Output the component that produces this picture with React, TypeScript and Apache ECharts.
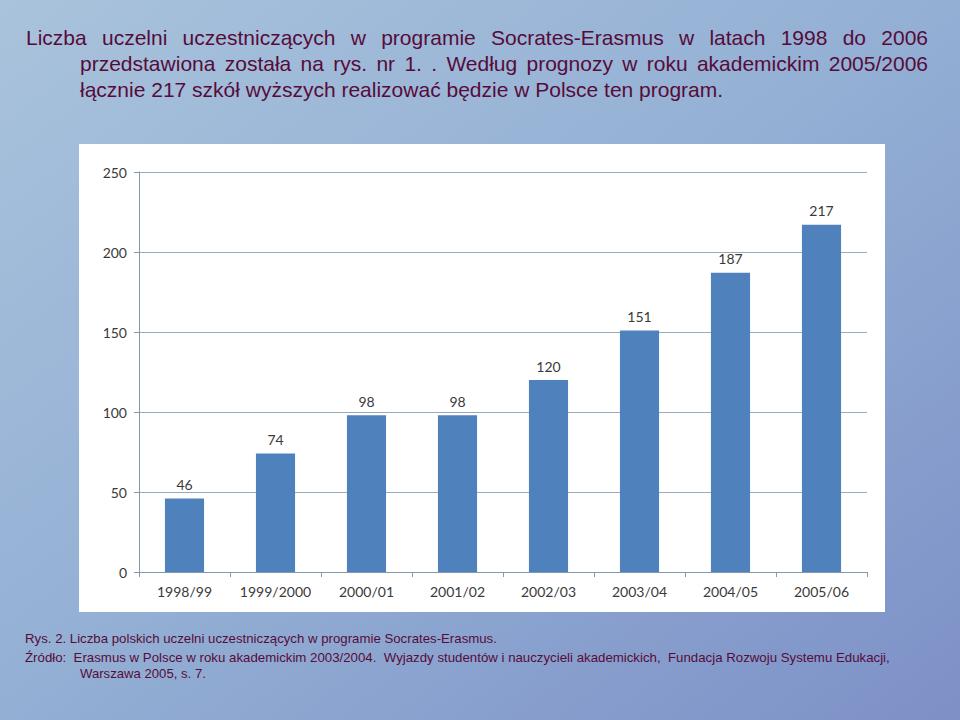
import React, { useEffect, useRef } from "react";
import * as echarts from "echarts";

const categories = ["1998/99", "1999/2000", "2000/01", "2001/02", "2002/03", "2003/04", "2004/05", "2005/06"];
const values = [46, 74, 98, 98, 120, 151, 187, 217];
const yMin = 0;
const yMax = 250;
const yStep = 50;

const headLine1 = "Liczba uczelni uczestniczących w programie Socrates-Erasmus w latach 1998 do 2006";
const headLine2 = "przedstawiona została na rys. nr 1. . Według prognozy w roku akademickim 2005/2006";
const headLine3 = "łącznie 217 szkół wyższych realizować będzie w Polsce ten program.";
const caption1 = "Rys. 2. Liczba polskich uczelni uczestniczących w programie Socrates-Erasmus.";
const caption2 = "Źródło:  Erasmus w Polsce w roku akademickim 2003/2004.  Wyjazdy studentów i nauczycieli akademickich,  Fundacja Rozwoju Systemu Edukacji,";
const caption3 = "Warszawa 2005, s. 7.";

const TEXT_COLOR = "#560c3a";
const HEAD_FONT = '"Liberation Sans", Arial, sans-serif';
const HEAD_SIZE = 21;

function measure(text: string, font: string): number {
  const c = document.createElement("canvas");
  const ctx = c.getContext("2d");
  if (!ctx) return text.length * 9;
  ctx.font = font;
  return ctx.measureText(text).width;
}

function justified(line: string, x0: number, x1: number, y: number, size: number): any[] {
  const words = line.split(/\s+/);
  const font = `${size}px "Liberation Sans"`;
  const widths = words.map((w) => measure(w, font));
  const total = widths.reduce((a, b) => a + b, 0);
  const gap = (x1 - x0 - total) / (words.length - 1);
  let x = x0;
  return words.map((w, i) => {
    const el = {
      type: "text",
      x,
      y,
      z: 100,
      style: { text: w, fill: TEXT_COLOR, font: `${size}px ${HEAD_FONT}`, verticalAlign: "middle", align: "left" },
    };
    x += widths[i] + gap;
    return el;
  });
}

function fitted(line: string, x0: number, x1: number, y: number, size: number): any {
  const natural = measure(line, `${size}px "Liberation Sans"`);
  const sx = (x1 - x0) / natural;
  return {
    type: "text",
    x: x0,
    y,
    z: 100,
    scaleX: sx,
    style: { text: line, fill: TEXT_COLOR, font: `${size}px ${HEAD_FONT}`, verticalAlign: "middle", align: "left" },
  };
}

export default function App() {
  const ref = useRef<HTMLDivElement>(null);
  useEffect(() => {
    if (!ref.current) return;
    const chart = echarts.init(ref.current, undefined, { renderer: "svg" });
    const labelFont = 'Lato, "Open Sans", sans-serif';
    chart.setOption({
      animation: false,
      backgroundColor: new echarts.graphic.LinearGradient(0, 0, 1, 1, [
        { offset: 0, color: "#a9c3dc" },
        { offset: 0.5, color: "#93afd4" },
        { offset: 1, color: "#7d90c7" },
      ]),
      graphic: [
        {
          type: "rect",
          z: -100,
          shape: { x: 79, y: 144, width: 806, height: 468 },
          style: { fill: "#ffffff" },
        },
        ...justified(headLine1, 26, 928, 37, HEAD_SIZE),
        ...justified(headLine2, 80, 928, 63, HEAD_SIZE),
        {
          type: "text",
          x: 80,
          y: 89,
          z: 100,
          style: { text: headLine3, fill: TEXT_COLOR, font: `${HEAD_SIZE}px ${HEAD_FONT}`, verticalAlign: "middle", align: "left" },
        },
        fitted(caption1, 25, 497, 639, 13),
        fitted(caption2, 25, 890, 658, 13),
        fitted(caption3, 80, 206, 674, 13),
      ],
      grid: { left: 139, right: 93, top: 172, bottom: 148, containLabel: false },
      xAxis: {
        type: "category",
        data: categories,
        boundaryGap: true,
        axisLine: { show: true, lineStyle: { color: "#8397ad", width: 1 } },
        axisTick: { show: true, alignWithLabel: false, interval: 0, length: 5, lineStyle: { color: "#8397ad" } },
        axisLabel: { color: "#3a3a3a", fontSize: 14, fontFamily: labelFont, margin: 12, interval: 0 },
      },
      yAxis: {
        type: "value",
        min: yMin,
        max: yMax,
        interval: yStep,
        axisLine: { show: true, lineStyle: { color: "#8397ad", width: 1 } },
        axisTick: { show: true, length: 5, lineStyle: { color: "#8397ad" } },
        axisLabel: { color: "#3a3a3a", fontSize: 14, fontFamily: labelFont, margin: 12 },
        splitLine: { show: true, lineStyle: { color: "#9aaabb", width: 1 } },
      },
      series: [
        {
          type: "bar",
          data: values,
          barWidth: "43%",
          itemStyle: { color: "#4f81bd" },
          label: {
            show: true,
            position: "top",
            distance: 7,
            color: "#3a3a3a",
            fontSize: 14,
            fontFamily: labelFont,
          },
        },
      ],
    });
    return () => chart.dispose();
  }, []);
  return <div ref={ref} style={{ position: "absolute", left: 0, top: 0, width: 960, height: 720 }} />;
}
